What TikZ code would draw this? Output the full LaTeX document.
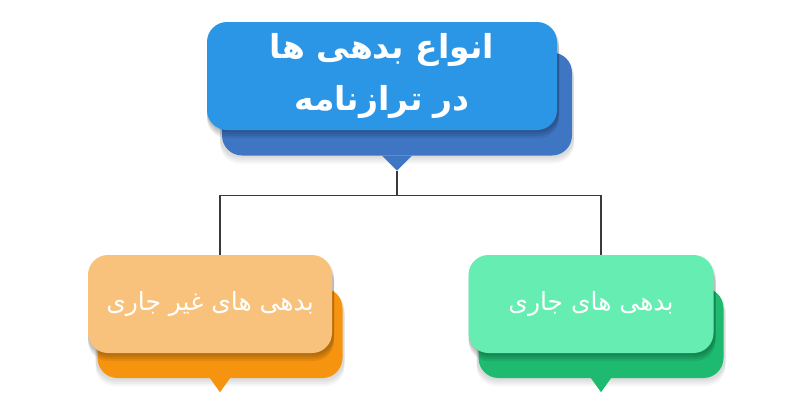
\documentclass[tikz,border=0pt]{standalone}
\usepackage{fontspec}
\TeXXeTstate=1
\newfontfamily\fa[Script=Arabic]{DejaVu Sans}
\definecolor{bluefront}{HTML}{2B95E6}
\definecolor{blueback}{HTML}{3F76C4}
\definecolor{orangefront}{HTML}{F9C27C}
\definecolor{orangeback}{HTML}{F7940F}
\definecolor{greenfront}{HTML}{66EDB1}
\definecolor{greenback}{HTML}{1DBA70}
\definecolor{linecol}{HTML}{3A3A3A}
\begin{document}
\begin{tikzpicture}[x=1pt,y=-1pt,
  backbox/.style={rounded corners=20pt, inner sep=0pt},
  frontbox/.style={rounded corners=20pt, inner sep=0pt, text=white, align=center},
  shadowbox/.style={rounded corners=20pt, inner sep=0pt, fill=black, fill opacity=0.07, draw=none},
  conn/.style={draw=linecol, line width=1.2pt}]
\useasboundingbox (0,0) rectangle (800,400);
\fill[white] (0,0) rectangle (800,400);
% top
\foreach \d in {2,4,6,8}{
  \node[shadowbox, fill opacity=0.035, minimum width=354pt, minimum height=103pt] at (397,104+\d) {};}
\node[backbox, fill=blueback, minimum width=350pt, minimum height=103pt] (topback) at (397,104) {};
\fill[blueback] ([xshift=-15pt]topback.south) -- ([yshift=-15pt]topback.south) coordinate (toptip) -- ([xshift=15pt]topback.south) -- cycle;
\foreach \d in {2,4,6,8}{
  \node[shadowbox, minimum width=352pt, minimum height=108pt] at (383,76+\d) {};}
\node[frontbox, fill=bluefront, minimum width=350pt, minimum height=108pt,
  font=\fa\bfseries\fontsize{33}{52}\selectfont] (topfront) at (382,76)
  {\beginR انواع بدهی ها\endR\\\beginR در ترازنامه\endR};
% left
\foreach \d in {2,4,6,8}{
  \node[shadowbox, fill opacity=0.035, minimum width=249pt, minimum height=90pt] at (220,333+\d) {};}
\node[backbox, fill=orangeback, minimum width=245pt, minimum height=90pt] (leftback) at (220,333) {};
\fill[orangeback] ([xshift=-10pt]leftback.south) -- ([yshift=-14pt]leftback.south) coordinate (lefttip) -- ([xshift=10pt]leftback.south) -- cycle;
\foreach \d in {2,4,6,8}{
  \node[shadowbox, minimum width=246pt, minimum height=98pt] at (211,304+\d) {};}
\node[frontbox, fill=orangefront, minimum width=244pt, minimum height=98pt,
  font=\fa\fontsize{25}{30}\selectfont] (leftfront) at (210,304)
  {\beginR بدهی های غیر جاری\endR};
% right
\foreach \d in {2,4,6,8}{
  \node[shadowbox, fill opacity=0.035, minimum width=249pt, minimum height=90pt] at (601,333+\d) {};}
\node[backbox, fill=greenback, minimum width=245pt, minimum height=90pt] (rightback) at (601,333) {};
\fill[greenback] ([xshift=-10pt]rightback.south) -- ([yshift=-14pt]rightback.south) coordinate (righttip) -- ([xshift=10pt]rightback.south) -- cycle;
\foreach \d in {2,4,6,8}{
  \node[shadowbox, minimum width=247pt, minimum height=98pt] at (592,304+\d) {};}
\node[frontbox, fill=greenfront, minimum width=245pt, minimum height=98pt,
  font=\fa\fontsize{25}{30}\selectfont] (rightfront) at (591,304)
  {\beginR بدهی های جاری\endR};
% connectors
\coordinate (junction) at ([yshift=-25pt]toptip);
\draw[conn] (toptip) -- (junction);
\draw[conn] (junction) -| (leftback.center |- leftfront.north);
\draw[conn] (junction) -| (rightback.center |- rightfront.north);
\end{tikzpicture}
\end{document}
